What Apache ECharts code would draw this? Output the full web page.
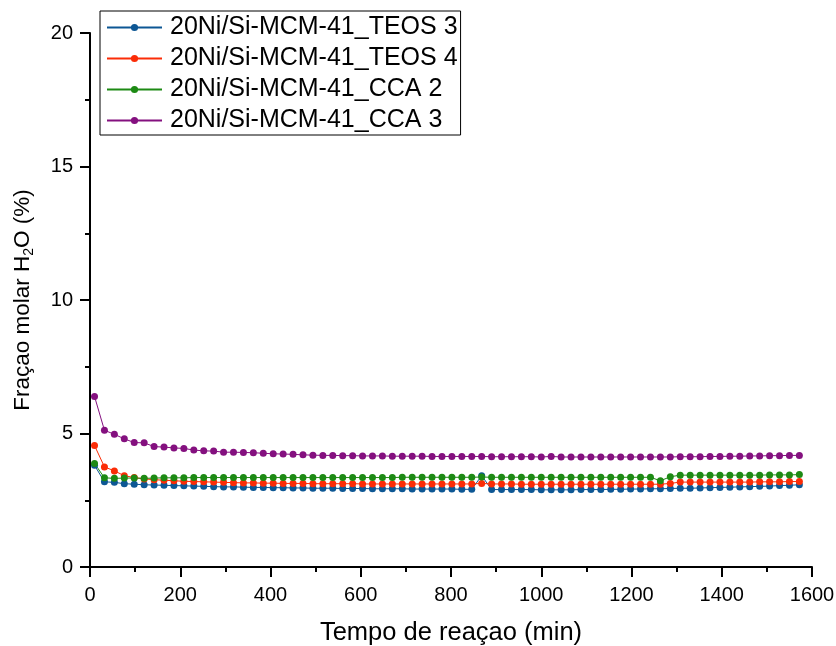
<!DOCTYPE html>
<html>
<head>
<meta charset="utf-8">
<script src="https://cdn.jsdelivr.net/npm/echarts@6/dist/echarts.min.js"></script>
<style>html,body{margin:0;padding:0;background:#fff}#c{width:836px;height:646px}</style>
</head>
<body>
<div id="c"></div>
<script>
const seriesNames = ['20Ni/Si-MCM-41_TEOS 3', '20Ni/Si-MCM-41_TEOS 4', '20Ni/Si-MCM-41_CCA 2', '20Ni/Si-MCM-41_CCA 3'];
const timeMin = [10,32,54,76,98,120,142,164,186,208,230,252,274,296,318,340,362,384,406,428,450,472,494,516,538,560,582,604,626,648,670,692,714,736,758,780,802,824,846,868,890,912,934,956,978,1000,1022,1044,1066,1088,1110,1132,1154,1176,1198,1220,1242,1264,1286,1308,1330,1352,1374,1396,1418,1440,1462,1484,1506,1528,1550,1572];
const teos3 = [3.81,3.19,3.17,3.12,3.10,3.08,3.07,3.06,3.05,3.04,3.03,3.02,3.01,3.00,3.00,2.99,2.98,2.98,2.97,2.97,2.96,2.96,2.95,2.95,2.95,2.94,2.94,2.94,2.93,2.93,2.93,2.93,2.92,2.92,2.92,2.92,2.92,2.91,2.91,3.42,2.90,2.90,2.90,2.90,2.90,2.89,2.89,2.89,2.89,2.90,2.90,2.90,2.91,2.91,2.92,2.92,2.93,2.93,2.94,2.95,2.95,2.96,2.97,2.98,2.99,3.00,3.01,3.02,3.03,3.05,3.06,3.08];
const teos4 = [4.55,3.75,3.60,3.42,3.35,3.30,3.27,3.25,3.23,3.21,3.20,3.19,3.18,3.17,3.16,3.15,3.15,3.14,3.14,3.13,3.13,3.13,3.12,3.12,3.12,3.12,3.12,3.11,3.11,3.11,3.11,3.11,3.11,3.11,3.11,3.11,3.11,3.11,3.11,3.13,3.11,3.11,3.11,3.10,3.10,3.10,3.10,3.10,3.10,3.10,3.10,3.10,3.10,3.10,3.10,3.10,3.10,3.10,3.13,3.18,3.18,3.18,3.18,3.18,3.18,3.18,3.18,3.19,3.19,3.19,3.20,3.20];
const cca2 = [3.88,3.34,3.32,3.33,3.33,3.32,3.33,3.34,3.34,3.34,3.35,3.35,3.35,3.35,3.35,3.35,3.35,3.35,3.35,3.35,3.35,3.35,3.35,3.35,3.35,3.35,3.35,3.35,3.35,3.35,3.35,3.36,3.36,3.36,3.36,3.36,3.36,3.36,3.36,3.37,3.36,3.36,3.36,3.36,3.36,3.36,3.36,3.36,3.36,3.36,3.36,3.36,3.36,3.36,3.36,3.36,3.36,3.23,3.38,3.44,3.44,3.44,3.44,3.44,3.44,3.44,3.44,3.44,3.45,3.45,3.45,3.46];
const cca3 = [6.39,5.12,4.97,4.80,4.66,4.65,4.51,4.49,4.46,4.44,4.38,4.35,4.34,4.30,4.30,4.29,4.28,4.26,4.24,4.23,4.22,4.20,4.19,4.18,4.18,4.17,4.17,4.16,4.16,4.16,4.15,4.15,4.15,4.15,4.14,4.14,4.14,4.14,4.14,4.14,4.13,4.13,4.13,4.13,4.13,4.12,4.14,4.12,4.12,4.12,4.12,4.12,4.12,4.12,4.12,4.12,4.12,4.12,4.12,4.13,4.13,4.13,4.14,4.14,4.15,4.15,4.16,4.16,4.17,4.17,4.18,4.18];
const colors = ['#0d5794', '#fb2c07', '#1d8a14', '#84107f'];
const xTicks = {min: 0, max: 1600, interval: 200};
const yTicks = {min: 0, max: 20, interval: 5};

const allData = [teos3, teos4, cca2, cca3];
const font = '"Liberation Sans", Arial, sans-serif';
const chart = echarts.init(document.getElementById('c'), null, {renderer: 'canvas'});
chart.setOption({
  animation: false,
  backgroundColor: '#fff',
  color: colors,
  grid: {left: 90, right: 24, top: 33, bottom: 79, containLabel: false, outerBoundsMode: 'none'},
  legend: {
    left: 100, top: 11, orient: 'vertical',
    data: seriesNames,
    itemWidth: 55, itemHeight: 9, itemGap: 6,
    padding: [4, 3, 2, 6],
    borderColor: '#000', borderWidth: 1,
    textStyle: {fontFamily: font, fontSize: 25, color: '#000', padding: [0, 0, 0, 3]}
  },
  xAxis: {
    type: 'value', min: xTicks.min, max: xTicks.max, interval: xTicks.interval,
    name: 'Tempo de reaçao (min)', nameLocation: 'middle', nameGap: 53,
    nameTextStyle: {fontFamily: font, fontSize: 25.5, color: '#000'},
    axisLine: {show: true, lineStyle: {color: '#000', width: 2}},
    axisTick: {show: true, inside: false, length: 10, lineStyle: {color: '#000', width: 2}},
    minorTick: {show: true, splitNumber: 2, length: 5, lineStyle: {color: '#000', width: 2}},
    axisLabel: {fontFamily: font, fontSize: 20, color: '#000', margin: 18, formatter: v => String(v)},
    splitLine: {show: false}
  },
  yAxis: {
    type: 'value', min: yTicks.min, max: yTicks.max, interval: yTicks.interval,
    name: 'Fraçao molar H{sub|2}O (%)', nameLocation: 'middle', nameGap: 54,
    nameTextStyle: {fontFamily: font, fontSize: 22.5, color: '#000',
      rich: {sub: {fontFamily: font, fontSize: 14, color: '#000', verticalAlign: 'bottom', padding: [12, 0, 0, 0]}}},
    axisLine: {show: true, lineStyle: {color: '#000', width: 2}},
    axisTick: {show: true, inside: false, length: 10, lineStyle: {color: '#000', width: 2}},
    minorTick: {show: true, splitNumber: 2, length: 5, lineStyle: {color: '#000', width: 2}},
    axisLabel: {fontFamily: font, fontSize: 20, color: '#000', margin: 17, formatter: v => String(v)},
    splitLine: {show: false}
  },
  series: seriesNames.map((n, k) => ({
    name: n, type: 'line',
    data: timeMin.map((t, i) => [t, allData[k][i]]),
    symbol: 'circle', symbolSize: 7, showSymbol: true,
    lineStyle: {width: 1, color: colors[k]},
    itemStyle: {color: colors[k]}
  }))
});
</script>
</body>
</html>
